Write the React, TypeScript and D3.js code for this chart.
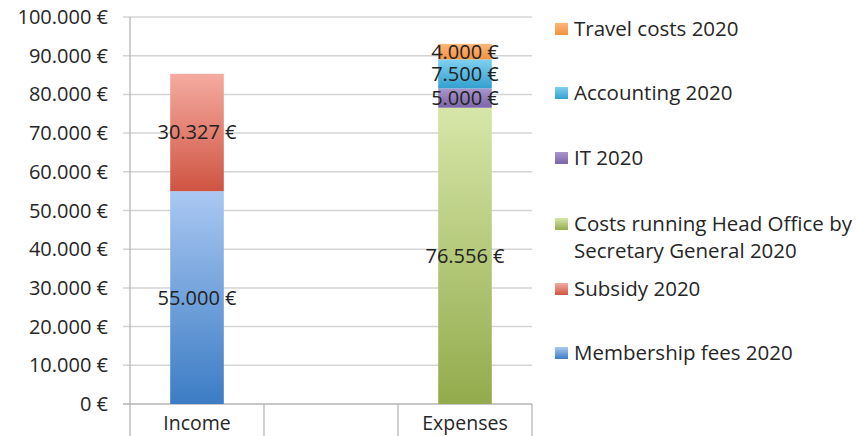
import React from 'react';
import * as d3 from 'd3';

// chart values
const categories = ['Income', '', 'Expenses'];
const seriesNames = [
  'Membership fees 2020',
  'Subsidy 2020',
  'Costs running Head Office by Secretary General 2020',
  'IT 2020',
  'Accounting 2020',
  'Travel costs 2020',
];
const membershipFees = [55000, 0, 0];
const subsidy = [30327, 0, 0];
const headOffice = [0, 0, 76556];
const itCosts = [0, 0, 5000];
const accounting = [0, 0, 7500];
const travelCosts = [0, 0, 4000];
const yTicks = [0, 10000, 20000, 30000, 40000, 50000, 60000, 70000, 80000, 90000, 100000];

// gradient colours per series: [top, bottom]
const colors: [string, string][] = [
  ['#aac8f2', '#3b7cc4'],
  ['#f5aba1', '#cf5442'],
  ['#d6e6a8', '#93ab4c'],
  ['#a896cc', '#7b65a8'],
  ['#7fd0ef', '#34a0cf'],
  ['#fbb77a', '#f3913f'],
];
const legendLines: string[][] = [
  ['Membership fees 2020'],
  ['Subsidy 2020'],
  ['Costs running Head Office by', 'Secretary General 2020'],
  ['IT 2020'],
  ['Accounting 2020'],
  ['Travel costs 2020'],
];
const legendY = [353, 289, 224, 158, 93, 29];

const W = 856;
const H = 436;
const margin = { top: 17, right: 324, bottom: 32, left: 130 };
const font = '"Open Sans", sans-serif';

const locale = d3.formatLocale({ decimal: ',', thousands: '.', grouping: [3], currency: ['', ' €'] });
const fmt = locale.format('$,.0f');

export default function App() {
  const seriesValues = [membershipFees, subsidy, headOffice, itCosts, accounting, travelCosts];
  const rows = categories.map((c, i) => {
    const r: any = { cat: c + '#' + i };
    seriesNames.forEach((s, k) => { r[s] = seriesValues[k][i]; });
    return r;
  });
  const stacked = d3.stack<any>().keys(seriesNames)(rows);

  const innerW = W - margin.left - margin.right;
  const innerH = H - margin.top - margin.bottom;
  const x = d3.scaleBand().domain(rows.map(r => r.cat)).range([0, innerW]).paddingInner(0).paddingOuter(0);
  const y = d3.scaleLinear().domain([0, 100000]).range([innerH, 0]);
  const barW = x.bandwidth() * 0.4;

  return (
    <svg width={W} height={H} style={{ position: 'absolute', left: 0, top: 0, background: '#fff' }}>
      <defs>
        {colors.map((c, i) => (
          <linearGradient key={i} id={'g' + i} x1="0" y1="0" x2="0" y2="1">
            <stop offset="0%" stopColor={c[0]} />
            <stop offset="100%" stopColor={c[1]} />
          </linearGradient>
        ))}
      </defs>
      <g transform={`translate(${margin.left},${margin.top})`}>
        {yTicks.map(t => (
          <g key={t} transform={`translate(0,${y(t)})`}>
            <line x1={-7} x2={innerW} stroke="#d4d4d4" strokeWidth={1.5} />
            <text x={-22} dy="0.35em" textAnchor="end" fontFamily={font} fontSize={20} fill="#262626">
              {fmt(t)}
            </text>
          </g>
        ))}
        <line x1={0} x2={0} y1={0} y2={innerH} stroke="#b0b0b0" strokeWidth={1.2} />
        <line x1={-7} x2={innerW} y1={innerH} y2={innerH} stroke="#b0b0b0" strokeWidth={1.2} />
        {[0, 1, 2, 3].map(i => (
          <line key={i} x1={i * x.step()} x2={i * x.step()} y1={innerH} y2={innerH + 32} stroke="#b0b0b0" strokeWidth={1.2} />
        ))}
        {rows.map((r, i) => (
          <text key={i} x={(x(r.cat) as number) + x.bandwidth() / 2} y={innerH + 26} textAnchor="middle"
            fontFamily={font} fontSize={19.5} fill="#262626">{categories[i]}</text>
        ))}
        {stacked.map((s, k) => (
          <g key={k}>
            {s.map((d, i) => d[1] - d[0] > 0 ? (
              <rect key={i} x={(x(rows[i].cat) as number) + (x.bandwidth() - barW) / 2} y={y(d[1])}
                width={barW} height={y(d[0]) - y(d[1])} fill={`url(#g${k})`} />
            ) : null)}
          </g>
        ))}
        {stacked.map((s, k) => (
          <g key={'l' + k}>
            {s.map((d, i) => d[1] - d[0] > 0 ? (
              <text key={i} x={(x(rows[i].cat) as number) + x.bandwidth() / 2} y={y((d[0] + d[1]) / 2)} dy="0.35em"
                textAnchor="middle" fontFamily={font} fontSize={20} fill="#222">{fmt(d[1] - d[0])}</text>
            ) : null)}
          </g>
        ))}
      </g>
      <g>
        {legendLines.map((lines, k) => (
          <g key={k} transform={`translate(555,${legendY[k]})`}>
            <rect x={0} y={-6} width={13} height={12} fill={`url(#g${k})`} />
            {lines.map((ln, j) => (
              <text key={j} x={19} y={j * 27} dy="0.35em" fontFamily={font} fontSize={20.5} fill="#262626">{ln}</text>
            ))}
          </g>
        ))}
      </g>
    </svg>
  );
}
